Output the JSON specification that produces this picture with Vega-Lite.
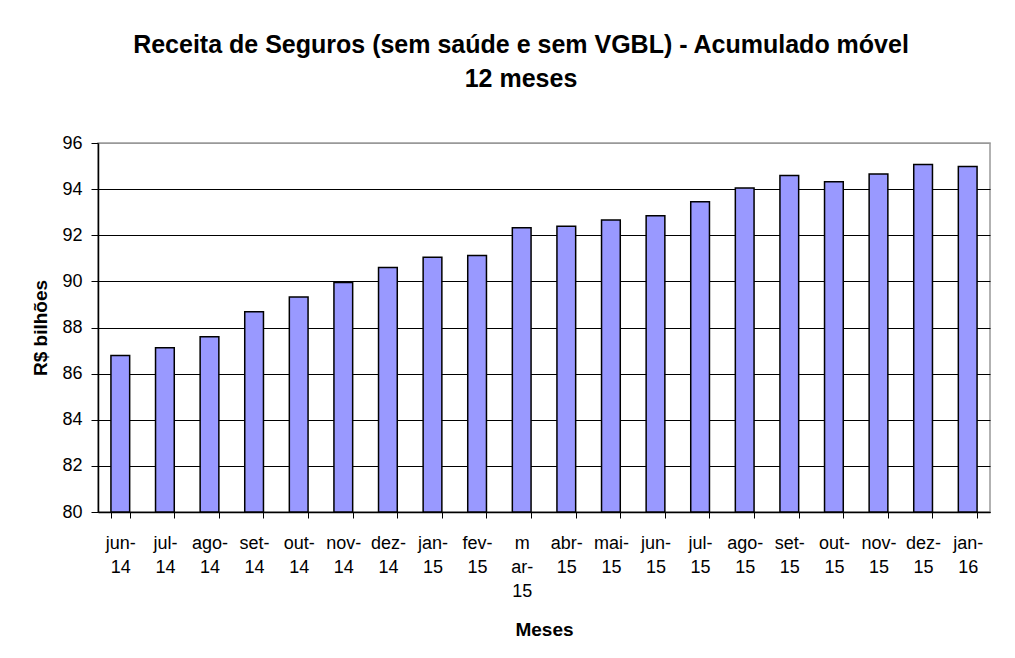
{
  "$schema": "https://vega.github.io/schema/vega-lite/v6.json",
  "width": 892,
  "height": 369,
  "autosize": {"type": "none"},
  "padding": {"left": 98, "top": 143, "right": 25, "bottom": 146},
  "background": "white",
  "title": {
    "text": ["Receita de Seguros (sem saúde e sem VGBL) - Acumulado móvel", "12 meses"],
    "font": "Liberation Sans",
    "fontSize": 25,
    "fontWeight": "bold",
    "color": "black",
    "anchor": "middle",
    "dx": -23,
    "lineHeight": 34,
    "offset": 42
  },
  "data": {
    "values": [
      {"mes": "jun-14", "valor": 86.79},
      {"mes": "jul-14", "valor": 87.12},
      {"mes": "ago-14", "valor": 87.60},
      {"mes": "set-14", "valor": 88.68},
      {"mes": "out-14", "valor": 89.32},
      {"mes": "nov-14", "valor": 89.95},
      {"mes": "dez-14", "valor": 90.60},
      {"mes": "jan-15", "valor": 91.05},
      {"mes": "fev-15", "valor": 91.12},
      {"mes": "mar-15", "valor": 92.32},
      {"mes": "abr-15", "valor": 92.39},
      {"mes": "mai-15", "valor": 92.66},
      {"mes": "jun-15", "valor": 92.85},
      {"mes": "jul-15", "valor": 93.45},
      {"mes": "ago-15", "valor": 94.05},
      {"mes": "set-15", "valor": 94.59},
      {"mes": "out-15", "valor": 94.32},
      {"mes": "nov-15", "valor": 94.66},
      {"mes": "dez-15", "valor": 95.07},
      {"mes": "jan-16", "valor": 94.98}
    ]
  },
  "mark": {"type": "bar", "fill": "#9999FF", "stroke": "black", "strokeWidth": 1.5},
  "encoding": {
    "x": {
      "field": "mes",
      "type": "nominal",
      "sort": null,
      "scale": {"paddingInner": 0.58, "paddingOuter": 0.29},
      "axis": {
        "title": "Meses",
        "titleFont": "Liberation Sans",
        "titleFontSize": 19,
        "titleFontWeight": "bold",
        "titleColor": "black",
        "titleY": 117,
        "titleBaseline": "middle",
        "labelAngle": 0,
        "labelFont": "Liberation Sans",
        "labelFontSize": 18,
        "labelColor": "black",
        "labelPadding": 16,
        "labelLineHeight": 24,
        "labelExpr": "datum.label == 'mar-15' ? ['m', 'ar-', '15'] : [slice(datum.label, 0, indexof(datum.label, '-') + 1), slice(datum.label, indexof(datum.label, '-') + 1)]",
        "tickBand": "extent",
        "tickSize": 6,
        "tickColor": "black",
        "domainColor": "black",
        "domainWidth": 1.5,
        "grid": false
      }
    },
    "y": {
      "field": "valor",
      "type": "quantitative",
      "scale": {"domain": [80, 96], "nice": false, "zero": false},
      "axis": {
        "title": "R$ bilhões",
        "titleFont": "Liberation Sans",
        "titleFontSize": 19,
        "titleFontWeight": "bold",
        "titleColor": "black",
        "titlePadding": 11,
        "values": [80, 82, 84, 86, 88, 90, 92, 94, 96],
        "labelFont": "Liberation Sans",
        "labelFontSize": 18,
        "labelColor": "black",
        "labelPadding": 9,
        "tickSize": 7,
        "tickColor": "black",
        "domainColor": "black",
        "domainWidth": 1.5,
        "grid": true,
        "gridColor": {"condition": {"test": "datum.value == 96", "value": "#999999"}, "value": "black"},
        "gridWidth": 1.2
      }
    },
    "y2": {"datum": 80}
  },
  "config": {
    "view": {"stroke": "#999999", "strokeWidth": 1.5}
  }
}
